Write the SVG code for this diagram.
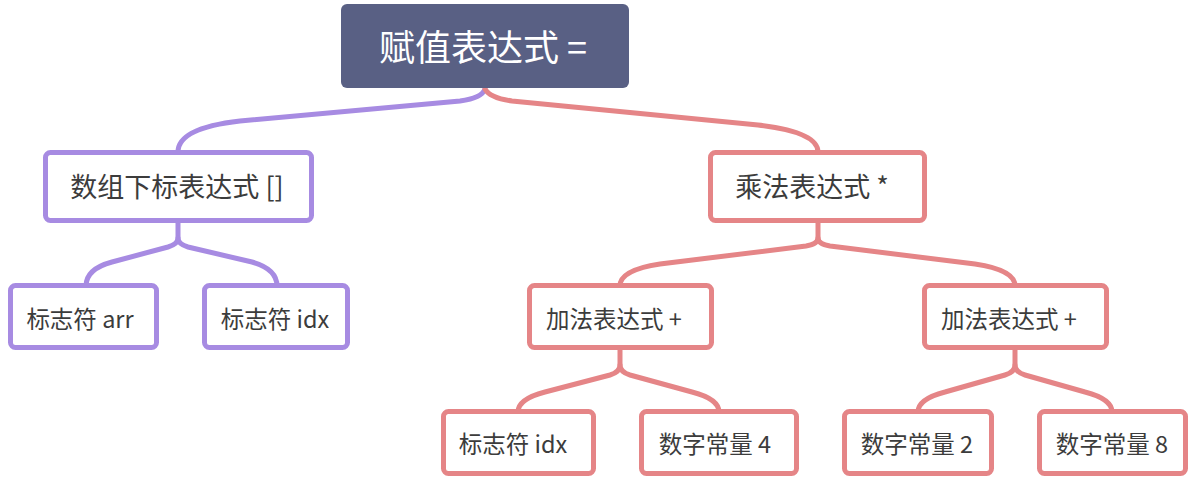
<svg xmlns="http://www.w3.org/2000/svg" width="1196" height="478" viewBox="0 0 1196 478">
<style>
text{font-family:"Noto Sans CJK SC","Liberation Sans",sans-serif;text-anchor:middle;fill:#3c3c3c}
.root text{fill:#ffffff;font-size:36px}
.l1 text{font-size:27px}
.l2 text{font-size:23.5px}
.box{fill:#ffffff;stroke-width:5}
.p .box{stroke:#a78be2}
.r .box{stroke:#e58587}
.c{fill:none;stroke-width:5;stroke-linecap:round}
.cp{stroke:#a78be2}
.cr{stroke:#e58587}
</style>
<rect width="1196" height="478" fill="#ffffff"/>
<g id="connectors">
<path class="c cp" d="M485,89 Q482,98 460,101 L240,121 Q178,128 178,152"/>
<path class="c cr" d="M485,89 Q490,98 512,101 L758,125 Q818,132 818,152"/>
<path class="c cp" d="M178,222 L178,238 Q178,244 168,247 L112,262 Q86,269 86,286"/>
<path class="c cp" d="M178,238 Q178,244 188,247 L252,262 Q277,269 277,286"/>
<path class="c cr" d="M818,222 L818,238 Q818,244 806,246 L660,264 Q620,270 620,286"/>
<path class="c cr" d="M818,238 Q818,244 830,246 L975,264 Q1015,270 1015,286"/>
<path class="c cr" d="M620,350 L620,365 Q620,372 610,375 L545,392 Q518,399 518,412"/>
<path class="c cr" d="M620,365 Q620,372 630,375 L692,392 Q719,399 719,412"/>
<path class="c cr" d="M1015,350 L1015,365 Q1015,372 1005,375 L945,392 Q918,399 918,412"/>
<path class="c cr" d="M1015,365 Q1015,372 1025,375 L1085,392 Q1112,399 1112,412"/>
</g>
<g id="root" class="root">
<rect x="341" y="4" width="288" height="84" rx="6" fill="#596084"/>
<text x="483" y="61">赋值表达式 =</text>
</g>
<g id="n-array" class="l1 p">
<rect class="box" x="45.5" y="152.5" width="266" height="68" rx="5"/>
<text x="177" y="197">数组下标表达式 []</text>
</g>
<g id="n-mul" class="l1 r">
<rect class="box" x="710.5" y="152.5" width="214" height="68" rx="5"/>
<text x="812" y="197">乘法表达式 *</text>
</g>
<g id="n-arr" class="l2 p">
<rect class="box" x="10.5" y="285.5" width="146" height="62" rx="5"/>
<text x="80" y="328">标志符 arr</text>
</g>
<g id="n-idx1" class="l2 p">
<rect class="box" x="204.5" y="285.5" width="143" height="62" rx="5"/>
<text x="275" y="328">标志符 idx</text>
</g>
<g id="n-add1" class="l2 r">
<rect class="box" x="529.5" y="285.5" width="182" height="62" rx="5"/>
<text x="614" y="328">加法表达式 +</text>
</g>
<g id="n-add2" class="l2 r">
<rect class="box" x="924.5" y="285.5" width="182" height="62" rx="5"/>
<text x="1009" y="328">加法表达式 +</text>
</g>
<g id="n-idx2" class="l2 r">
<rect class="box" x="443.5" y="411.5" width="150" height="62" rx="5"/>
<text x="513" y="453">标志符 idx</text>
</g>
<g id="n-c4" class="l2 r">
<rect class="box" x="641.5" y="411.5" width="155" height="62" rx="5"/>
<text x="715" y="453">数字常量 4</text>
</g>
<g id="n-c2" class="l2 r">
<rect class="box" x="844.5" y="411.5" width="147" height="62" rx="5"/>
<text x="917" y="453">数字常量 2</text>
</g>
<g id="n-c8" class="l2 r">
<rect class="box" x="1039.5" y="411.5" width="146" height="62" rx="5"/>
<text x="1112" y="453">数字常量 8</text>
</g>
</svg>
